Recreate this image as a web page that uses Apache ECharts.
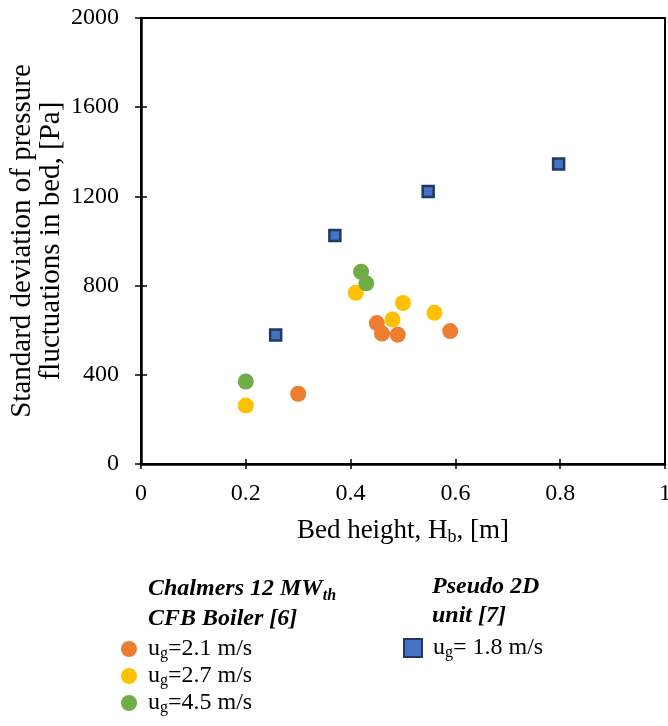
<!DOCTYPE html>
<html>
<head>
<meta charset="utf-8">
<script src="https://cdn.jsdelivr.net/npm/echarts@6/dist/echarts.min.js"></script>
<style>
  html, body { margin: 0; padding: 0; background: #fff; }
  #chart { width: 668px; height: 726px; }
</style>
</head>
<body>
<div id="chart"></div>
<script>
// bed height [m], std dev of pressure fluctuations [Pa]
var chalmers21 = [[0.30, 315], [0.45, 632], [0.46, 585], [0.49, 580], [0.59, 596]];
var chalmers27 = [[0.20, 262], [0.41, 768], [0.48, 648], [0.50, 722], [0.56, 678]];
var chalmers45 = [[0.20, 370], [0.42, 862], [0.43, 810]];
var pseudo18 = [[0.257, 578], [0.37, 1025], [0.548, 1222], [0.797, 1345]];

var seriesNames = ["ug=2.1 m/s", "ug=2.7 m/s", "ug=4.5 m/s", "ug= 1.8 m/s"];
var seriesColors = ["#ed7d31", "#ffc000", "#70ad47", "#4472c4"];

var FONT = "Liberation Serif";

var chartDom = document.getElementById("chart");
var myChart = echarts.init(chartDom);
var option;

function legendFmt(name) {
  // "ug=2.1 m/s" -> u + subscript g + rest
  return "{p|}{t|u}{s|g}{t|" + name.slice(2) + "}";
}

var legendRich = {
  p: { width: 6, lineHeight: 26 },
  t: { fontFamily: FONT, fontSize: 24, color: "#000", lineHeight: 22 },
  s: { fontFamily: FONT, fontSize: 16, color: "#000", lineHeight: 4, verticalAlign: "bottom" }
};

function circleSeries(i, data) {
  return {
    name: seriesNames[i],
    type: "scatter",
    data: data,
    symbol: "circle",
    symbolSize: 16,
    itemStyle: { color: seriesColors[i], opacity: 1 },
    z: 3
  };
}

option = {
  animation: false,
  backgroundColor: "#fff",
  grid: {
    left: 141,
    right: 3,
    top: 18,
    bottom: 262,
    containLabel: false,
    outerBoundsMode: "none",
    show: true,
    borderColor: "#000",
    borderWidth: 2
  },
  xAxis: [
    {
      type: "value",
      min: 0,
      max: 1,
      interval: 0.2,
      name: "{t|Bed height, H}{s|b}{t|, [m]}",
      nameLocation: "middle",
      nameGap: 52,
      nameMoveOverlap: false,
      nameTextStyle: {
        fontFamily: FONT,
        fontSize: 27,
        color: "#000",
        rich: {
          t: { fontFamily: FONT, fontSize: 27, color: "#000", lineHeight: 30 },
          s: { fontFamily: FONT, fontSize: 18, color: "#000", lineHeight: 17, verticalAlign: "bottom" }
        }
      },
      splitLine: { show: false },
      axisLine: { lineStyle: { color: "#000", width: 2.5 } },
      axisTick: { length: 5, lineStyle: { color: "#000", width: 1.5 } },
      axisLabel: { fontFamily: FONT, fontSize: 24, color: "#000", margin: 18 }
    },
    {
      type: "value",
      position: "bottom",
      min: 0,
      max: 1,
      interval: 0.2,
      splitLine: { show: false },
      axisLine: { show: false },
      axisTick: { inside: true, length: 5, lineStyle: { color: "#000", width: 1.5 } },
      axisLabel: { show: false }
    }
  ],
  yAxis: [
    {
      type: "value",
      min: 0,
      max: 2000,
      interval: 400,
      name: "Standard deviation of pressure\nfluctuations in bed, [Pa]",
      nameLocation: "middle",
      nameGap: 75,
      nameMoveOverlap: false,
      nameTextStyle: { fontFamily: FONT, fontSize: 29, color: "#000", lineHeight: 29 },
      splitLine: { show: false },
      axisLine: { lineStyle: { color: "#000", width: 2.5 } },
      axisTick: { length: 6, lineStyle: { color: "#000", width: 1.5 } },
      axisLabel: {
        fontFamily: FONT,
        fontSize: 24,
        color: "#000",
        margin: 22,
        formatter: function (v) {
          return String(v);
        }
      }
    },
    {
      type: "value",
      position: "left",
      min: 0,
      max: 2000,
      interval: 400,
      splitLine: { show: false },
      axisLine: { show: false },
      axisTick: { inside: true, length: 6, lineStyle: { color: "#000", width: 1.5 } },
      axisLabel: { show: false }
    }
  ],
  legend: [
    {
      data: seriesNames.slice(0, 3),
      orient: "vertical",
      left: 121,
      top: 637,
      padding: 0,
      itemWidth: 16,
      itemHeight: 16,
      itemGap: 2,
      icon: "circle",
      formatter: legendFmt,
      textStyle: { rich: legendRich }
    },
    {
      data: [seriesNames[3]],
      orient: "vertical",
      left: 403,
      top: 636,
      padding: 0,
      itemWidth: 18,
      itemHeight: 18,
      formatter: legendFmt,
      textStyle: { rich: legendRich }
    }
  ],
  graphic: [
    {
      type: "text",
      left: 148,
      top: 577,
      style: {
        text: "{b|Chalmers 12 MW}{s|th}\n{b|CFB Boiler [6]}",
        rich: {
          b: { fontFamily: FONT, fontSize: 24, fontWeight: "bold", fontStyle: "italic", fill: "#000", lineHeight: 30 },
          s: { fontFamily: FONT, fontSize: 16, fontWeight: "bold", fontStyle: "italic", fill: "#000", lineHeight: 14, verticalAlign: "bottom" }
        }
      }
    },
    {
      type: "text",
      left: 432,
      top: 572,
      style: {
        text: "Pseudo 2D\nunit [7]",
        fontFamily: FONT,
        fontSize: 24,
        fontWeight: "bold",
        fontStyle: "italic",
        fill: "#000",
        lineHeight: 29
      }
    }
  ],
  series: [
    circleSeries(0, chalmers21),
    circleSeries(1, chalmers27),
    circleSeries(2, chalmers45),
    {
      name: seriesNames[3],
      type: "scatter",
      data: pseudo18,
      symbol: "rect",
      symbolSize: 11,
      itemStyle: { color: seriesColors[3], borderColor: "#1f3864", borderWidth: 2.5, opacity: 1 },
      z: 4
    }
  ]
};

option && myChart.setOption(option);
</script>
</body>
</html>
